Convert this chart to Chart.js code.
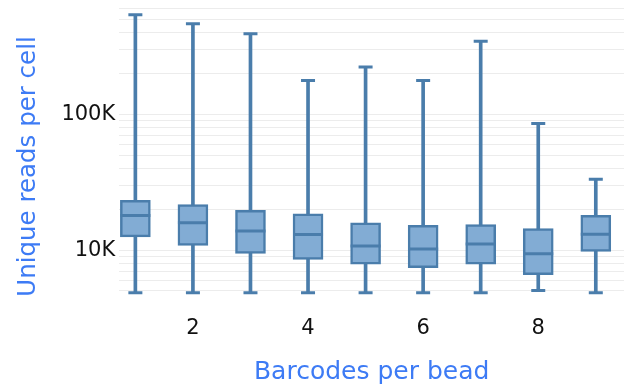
<!DOCTYPE html>
<html lang="en">
<head>
  <meta charset="UTF-8">
  <title>Unique reads per cell</title>
  <script src="https://cdn.jsdelivr.net/npm/chart.js"></script>
  <style>
    body { margin: 0; padding: 0; background: #fff; }
    #wrap { width: 633px; height: 388px; }
  </style>
</head>
<body>
  <div id="wrap"><canvas id="box"></canvas></div>
  <script>
    // values (unique reads per cell)
    const barcodes = [1, 2, 3, 4, 5, 6, 7, 8, 9];
    const whiskerLow = [4850, 4850, 4850, 4850, 4850, 4850, 4850, 5040, 4850];
    const q1 = [12500, 10800, 9460, 8550, 7860, 7420, 7860, 6600, 9780];
    const medians = [18000, 15900, 13800, 13000, 10700, 10200, 11100, 9400, 13100];
    const q3 = [23200, 21600, 19600, 18500, 15900, 15200, 15400, 14400, 18000];
    const whiskerHigh = [539000, 463000, 391000, 177000, 223000, 177000, 344000, 85300, 33200];
    const xTicks = [2, 4, 6, 8];
    const yLabels = { 10000: '10K', 100000: '100K' };

    const edge = '#4a7dab';
    const fill = '#82acd4';
    const blue = '#3d7bf5';
    const font = '"DejaVu Sans", sans-serif';

    const pts = (arr) => barcodes.map((b, i) => ({ x: b, y: arr[i] }));

    new Chart(document.getElementById('box'), {
      type: 'bar',
      data: {
        datasets: [
          {
            label: 'whisker',
            data: barcodes.map((b, i) => ({ x: b, y: [whiskerLow[i], whiskerHigh[i]] })),
            backgroundColor: edge,
            barThickness: 3,
            grouped: false,
            order: 3
          },
          {
            label: 'box',
            data: barcodes.map((b, i) => ({ x: b, y: [q1[i], q3[i]] })),
            backgroundColor: fill,
            borderColor: edge,
            borderWidth: 2.5,
            borderSkipped: false,
            barThickness: 30,
            grouped: false,
            order: 2
          },
          {
            type: 'scatter',
            label: 'median',
            data: pts(medians),
            pointStyle: 'line',
            radius: 15,
            borderColor: edge,
            borderWidth: 3,
            order: 1
          },
          {
            type: 'scatter',
            label: 'caps',
            data: pts(whiskerLow).concat(pts(whiskerHigh)),
            pointStyle: 'line',
            radius: 7,
            borderColor: edge,
            borderWidth: 3,
            order: 1
          }
        ]
      },
      options: {
        responsive: true,
        maintainAspectRatio: false,
        animation: false,
        layout: { autoPadding: false, padding: { left: 10, right: 9, top: 0, bottom: -3 } },
        plugins: { legend: { display: false }, tooltip: { enabled: false } },
        scales: {
          x: {
            type: 'linear',
            offset: false,
            min: 0.72,
            max: 9.49,
            afterBuildTicks: (axis) => { axis.ticks = xTicks.map(v => ({ value: v })); },
            grid: { display: false, drawTicks: false },
            border: { display: false },
            ticks: { color: '#111', font: { family: font, size: 21 }, padding: 19 },
            title: { display: true, text: 'Barcodes per bead', color: blue, font: { family: font, size: 25 }, padding: { top: -3 } }
          },
          y: {
            type: 'logarithmic',
            min: 4530,
            max: 641000,
            afterBuildTicks: (axis) => {
              const t = [];
              for (let d = 1000; d <= 1000000; d *= 10) {
                for (let k = 1; k <= 9; k++) {
                  const v = k * d;
                  if (v >= axis.min && v <= axis.max) t.push({ value: v });
                }
              }
              axis.ticks = t;
            },
            grid: { color: '#ececec', drawTicks: false },
            border: { display: false },
            ticks: {
              autoSkip: false,
              color: '#111',
              // unlabeled minor ticks get a tiny font so they reserve no room
              font: (ctx) => ({ family: font, size: yLabels[ctx.tick && ctx.tick.value] ? 21 : 1 }),
              padding: 4,
              callback: (v) => yLabels[v] || ''
            },
            title: { display: true, text: 'Unique reads per cell', align: 'start', color: blue, font: { family: font, size: 24.5 }, padding: { bottom: 14 } }
          }
        }
      }
    });
  </script>
</body>
</html>
